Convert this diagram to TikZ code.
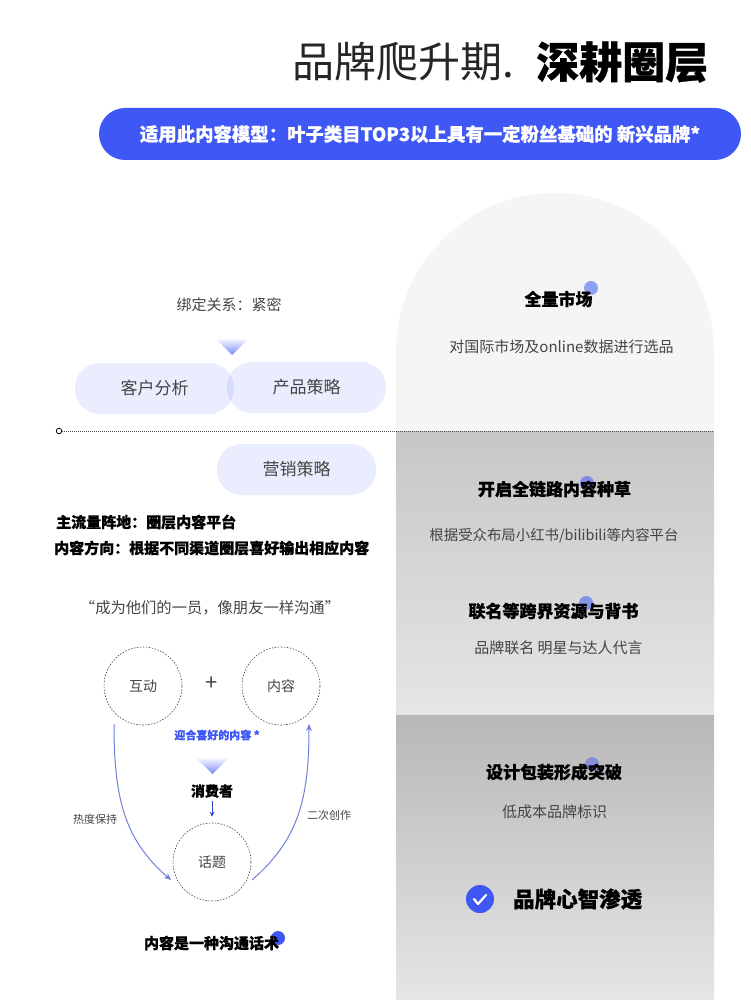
\documentclass[tikz,border=0pt]{standalone}
\usepackage{fontspec}
\setmainfont{Noto Sans CJK SC}[BoldFeatures={FakeBold=0.7}]
\usepackage{tikz}
\usetikzlibrary{arrows.meta,shadings}
\definecolor{brandblue}{HTML}{3F58F5}
\definecolor{softblue}{HTML}{6F80D8}
\definecolor{bodygray}{HTML}{444444}

\begin{document}
\begin{tikzpicture}[x=1pt, y=-1pt,
        plain/.style={text=bodygray, font=\fontsize{15}{15}\selectfont, inner sep=0pt},
        small/.style={text=bodygray, font=\fontsize{11}{11}\selectfont, inner sep=0pt},
        head/.style={text=black, font=\fontsize{17}{17}\bfseries\selectfont, inner sep=0pt},
        lead/.style={text=black, font=\fontsize{15}{15}\bfseries\selectfont, inner sep=0pt},
        pill/.style={fill=brandblue, fill opacity=0.11, text opacity=1, rounded corners=25pt, minimum width=159pt, minimum height=51pt, text=bodygray, font=\fontsize{17}{17}\selectfont, inner sep=0pt},
        ring/.style={circle, draw=black!75, line width=0.6pt, dash pattern=on 1.5pt off 1.5pt, minimum size=78pt, text=bodygray, font=\fontsize{14}{14}\selectfont, inner sep=0pt},
        dot/.style={circle, fill=brandblue, minimum size=14pt, inner sep=0pt},
        curve/.style={draw=softblue, line width=1pt, -{Stealth[length=7pt,width=6pt]}}
    ]
    \useasboundingbox (0,0) rectangle (750,1000);

    % right column
    \fill[black!4] (396,431) -- (396,352) arc (180:360:159) -- (714,431) -- cycle;
    \shade[top color=black!22, bottom color=black!10] (396,431) rectangle (714,715);
    \shade[top color=black!28, bottom color=black!10] (396,715) rectangle (714,1000);

    % title and banner
    \node[anchor=west, inner sep=0pt, text=black!85, font=\fontsize{42}{42}\selectfont] (titlea) at (292,62) {品牌爬升期.};
    \node[anchor=west, inner sep=0pt, text=black, font=\fontsize{43}{43}\bfseries\selectfont] (titleb) at (536,62) {深耕圈层};
    \node[fill=brandblue, rounded corners=26pt, minimum width=642pt, minimum height=52pt, text=white, font=\fontsize{18.4}{18.4}\bfseries\selectfont, inner sep=0pt] (banner) at (420,134) {适用此内容模型：叶子类目TOP3以上具有一定粉丝基础的 新兴品牌*};

    % upper left
    \node[plain] (bind) at (229,305) {绑定关系：紧密};
    \shade[top color=white, bottom color=brandblue!70] (215,338) -- (249,338) -- (232,355) -- cycle;
    \node[pill] (client) at (154.5,388.5) {客户分析};
    \node[pill] (product) at (306.5,387.5) {产品策略};
    \node[pill] (market) at (296.5,469.5) {营销策略};

    % dotted rule
    \node[circle, draw=black, line width=0.8pt, minimum size=5.5pt, inner sep=0pt] (rulestart) at (59,431) {};
    \coordinate (ruleend) at (714,431);
    \draw[black!70, line width=1pt, dash pattern=on 1pt off 1pt] (rulestart) -- (ruleend);

    \node[lead, anchor=west] (mainline) at (56,522) {主流量阵地：圈层内容平台};
    \node[lead, anchor=west] (direction) at (54,548) {内容方向：根据不同渠道圈层喜好输出相应内容};
    \node[plain, font=\fontsize{15.3}{15.3}\selectfont] (quote) at (210,608) {“成为他们的一员，像朋友一样沟通”};

    % loop
    \node[ring] (hudong) at (143,686) {互动};
    \node[ring] (neirong) at (281,686) {内容};
    \node[ring] (huati) at (212,862) {话题};
    \coordinate (hotstart) at (114,724);
    \coordinate (hotend) at (171,880);
    \coordinate (makestart) at (252,880);
    \coordinate (makeend) at (309,724);
    \node[inner sep=0pt, text=bodygray, font=\fontsize{22}{22}\selectfont] (plus) at (212,684) {+};
    \node[inner sep=0pt, text=brandblue, font=\fontsize{11}{11}\bfseries\selectfont] (fit) at (217,735) {迎合喜好的内容 *};
    \shade[top color=white, bottom color=brandblue!70] (195,757) -- (230,757) -- (212.5,774) -- cycle;
    \node[lead, font=\fontsize{14}{14}\bfseries\selectfont] (consumer) at (212,791) {消费者};
    \draw[draw=brandblue!80!black, line width=0.9pt, -{Stealth[length=5pt,width=5pt]}, shorten >=6pt, shorten <=3pt] (consumer) -- (huati);
    \draw[curve] (hotstart) .. controls +(0,76) and +(-46,-40) .. (hotend);
    \draw[curve] (makestart) .. controls +(46,-40) and +(0,76) .. (makeend);
    \node[small] (keep) at (95,819) {热度保持};
    \node[small] (recreate) at (329,815) {二次创作};
    \node[dot] (talkdot) at (278,938) {};
    \node[lead] (talk) at (211.5,943) {内容是一种沟通话术};

    % right column texts
    \node[dot, opacity=0.55] (dota) at (591,288) {};
    \node[dot, opacity=0.55] (dotb) at (587,483) {};
    \node[dot, opacity=0.55] (dotc) at (586,603) {};
    \node[dot, opacity=0.45] (dotd) at (592,764) {};
    \node[head] (full) at (558.5,299) {全量市场};
    \node[plain] (fulltext) at (561.5,347) {对国际市场及online数据进行选品};
    \node[head] (chain) at (554.5,489) {开启全链路内容种草};
    \node[plain, font=\fontsize{14.4}{14.4}\selectfont] (chaintext) at (554,536) {根据受众布局小红书/bilibili等内容平台};
    \node[head] (cross) at (553.5,611) {联名等跨界资源与背书};
    \node[plain] (crosstext) at (558.5,648) {品牌联名 明星与达人代言};
    \node[head] (design) at (554,772) {设计包装形成突破};
    \node[plain] (designtext) at (554.5,812) {低成本品牌标识};
    \node[circle, fill=brandblue, minimum size=28pt, inner sep=0pt] (checkdot) at (480,899) {};
    \draw[white, line width=2.2pt, line cap=round, line join=round] (checkdot) ++(-6,0) -- ++(4,5) -- ++(8,-9);
    \node[text=black, inner sep=0pt, anchor=west, font=\fontsize{21.5}{21.5}\bfseries\selectfont] (brand) at (513,899) {品牌心智渗透};
\end{tikzpicture}
\end{document}
